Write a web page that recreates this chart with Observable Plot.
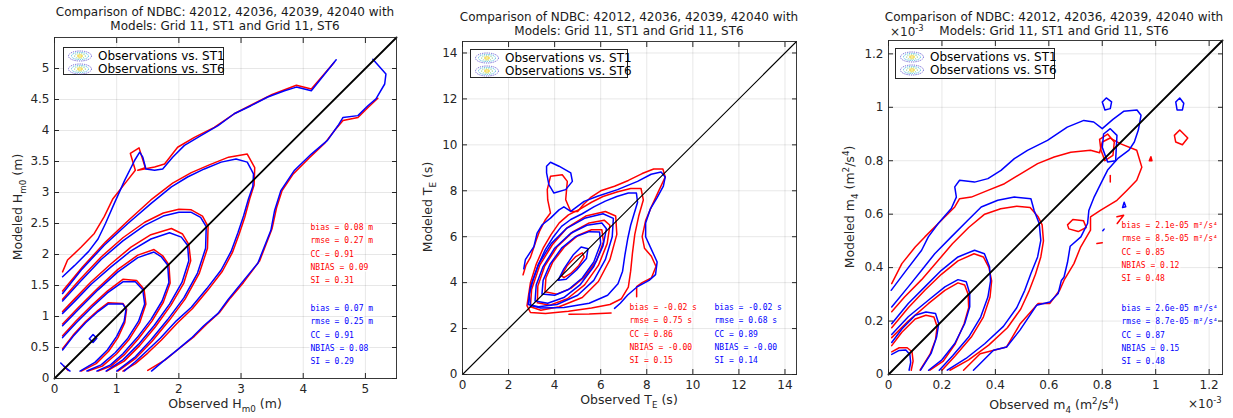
<!DOCTYPE html>
<html><head><meta charset="utf-8">
<script src="https://cdn.jsdelivr.net/npm/d3@7"></script>
<script src="https://cdn.jsdelivr.net/npm/@observablehq/plot@0.6"></script>
<style>
body{margin:0;background:#fff;font-family:"DejaVu Sans",sans-serif;}
#wrap{position:relative;width:1233px;height:418px;overflow:hidden;background:#fff;}
.panel{position:absolute;top:0;}
.title{position:absolute;text-align:center;font-size:12px;line-height:14px;color:#1a1a1a;white-space:nowrap;transform:translateX(-50%);}
.xlab,.ylab{position:absolute;font-size:12.5px;color:#262626;white-space:nowrap;line-height:14px;}
.xlab{transform:translate(-50%,-50%);}
.ylab{transform:translate(-50%,-50%) rotate(-90deg);}
.exp{position:absolute;font-size:12px;color:#262626;white-space:nowrap;line-height:12px;}
sub,sup{font-size:70%;line-height:0;}
.legend{position:absolute;border:1px solid #262626;background:#fff;font-size:12px;line-height:14px;color:#000;box-sizing:border-box;}
.legend div{display:flex;align-items:center;height:13px;white-space:nowrap;}
.legend svg{margin:0 5px 0 3px;flex:none;}
</style></head>
<body><div id="wrap"></div>
<script>
// ---------------- DATA ----------------
// Panel 1: Hm0 (m). Contour lines: [observed, modeled]
const p1Red = [
 [[0.13,1.72],[0.21,1.91],[0.43,2.12],[0.64,2.34],[0.80,2.61],[0.94,2.9],[1.16,3.18],[1.30,3.36],[1.22,3.63],[1.36,3.72],[1.46,3.40],[1.34,3.36],[1.61,3.41],[1.77,3.46],[1.98,3.73],[2.25,3.89],[2.57,4.05],[2.89,4.27],[3.22,4.44],[3.50,4.58],[3.89,4.73],[4.13,4.67],[4.50,5.10]],
 [[5.20,4.52],[5.05,4.38],[4.88,4.21],[4.64,4.16],[4.52,4.02],[4.35,3.80],[4.10,3.56],[3.84,3.30],[3.66,3.03],[3.57,2.75],[3.50,2.42],[3.30,1.90],[3.04,1.55],[2.83,1.30],[2.65,1.06],[2.45,0.88],[2.25,0.68],[2.0,0.48],[1.78,0.30],[1.5,0.13]],
 [[0.13,1.41],[0.45,1.8],[0.82,2.2],[1.2,2.56],[1.55,2.88],[1.9,3.15],[2.2,3.32],[2.5,3.45],[2.8,3.57],[3.1,3.62],[3.22,3.40],[3.21,3.12],[3.14,2.9],[3.06,2.6],[2.97,2.33],[2.86,2.03],[2.70,1.73],[2.47,1.43],[2.22,1.13],[1.98,0.9],[1.72,0.62],[1.5,0.41],[1.3,0.24],[1.1,0.12]],
 [[0.13,1.28],[0.4,1.59],[0.75,1.96],[1.1,2.27],[1.45,2.52],[1.75,2.67],[2.0,2.73],[2.2,2.72],[2.38,2.62],[2.47,2.45],[2.46,2.1],[2.33,1.7],[2.1,1.28],[1.84,0.93],[1.57,0.6],[1.31,0.33],[1.02,0.12]],
 [[0.13,1.08],[0.32,1.28],[0.59,1.56],[0.91,1.85],[1.23,2.12],[1.55,2.32],[1.88,2.42],[2.06,2.33],[2.16,2.16],[2.19,1.9],[2.08,1.54],[1.87,1.18],[1.62,0.83],[1.37,0.53],[1.12,0.28],[0.84,0.12]],
 [[0.13,0.88],[0.38,1.14],[0.7,1.46],[1.02,1.76],[1.34,1.99],[1.6,2.08],[1.74,1.98],[1.84,1.83],[1.86,1.54],[1.75,1.23],[1.57,0.93],[1.35,0.64],[1.12,0.38],[0.91,0.2],[0.7,0.12]],
 [[0.13,0.69],[0.35,0.93],[0.6,1.18],[0.85,1.41],[1.1,1.6],[1.32,1.58],[1.44,1.44],[1.47,1.2],[1.37,0.9],[1.2,0.63],[1.0,0.4],[0.77,0.2],[0.54,0.12]],
 [[0.13,0.48],[0.3,0.7],[0.5,0.92],[0.7,1.1],[0.86,1.22],[1.1,1.21],[1.16,1.12],[1.13,0.9],[1.02,0.66],[0.87,0.44],[0.67,0.24],[0.43,0.12]],
 [[0.15,0.2],[0.22,0.13]]
];
const p1Blue = [
 [[0.13,1.64],[0.32,1.82],[0.55,2.05],[0.70,2.25],[0.82,2.50],[0.96,2.82],[1.13,3.20],[1.29,3.52],[1.37,3.65],[1.42,3.57],[1.47,3.38],[1.61,3.36],[1.74,3.38],[1.90,3.57],[2.09,3.76],[2.36,3.92],[2.63,4.08],[2.89,4.27],[3.16,4.40],[3.43,4.54],[3.70,4.64],[3.89,4.70],[4.13,4.64],[4.53,5.14]],
 [[5.12,5.15],[5.33,4.91],[5.31,4.75],[5.17,4.51],[5.04,4.40],[4.88,4.24],[4.64,4.21],[4.56,4.08],[4.39,3.84],[4.13,3.62],[3.86,3.36],[3.64,3.03],[3.54,2.71],[3.48,2.39],[3.27,1.86],[3.00,1.53],[2.79,1.27],[2.63,1.05],[2.40,0.85],[2.20,0.65],[1.96,0.45],[1.75,0.28],[1.56,0.12]],
 [[0.13,1.37],[0.43,1.75],[0.8,2.15],[1.18,2.5],[1.55,2.82],[1.88,3.09],[2.14,3.25],[2.41,3.38],[2.68,3.49],[2.92,3.54],[3.1,3.49],[3.2,3.3],[3.19,3.1],[3.12,2.9],[3.04,2.62],[2.95,2.35],[2.84,2.05],[2.68,1.75],[2.45,1.45],[2.2,1.15],[1.96,0.93],[1.7,0.65],[1.48,0.44],[1.3,0.27],[1.12,0.12]],
 [[0.13,1.25],[0.4,1.55],[0.75,1.92],[1.1,2.22],[1.45,2.47],[1.75,2.62],[2.0,2.68],[2.2,2.68],[2.35,2.6],[2.44,2.45],[2.43,2.1],[2.3,1.7],[2.08,1.3],[1.82,0.95],[1.55,0.62],[1.3,0.35],[1.0,0.12]],
 [[0.13,1.05],[0.32,1.24],[0.59,1.52],[0.91,1.8],[1.23,2.06],[1.55,2.25],[1.85,2.35],[2.04,2.28],[2.14,2.15],[2.16,1.9],[2.05,1.55],[1.85,1.2],[1.6,0.85],[1.35,0.55],[1.1,0.3],[0.83,0.12]],
 [[0.13,0.85],[0.38,1.11],[0.7,1.43],[1.02,1.72],[1.34,1.95],[1.6,2.04],[1.72,1.96],[1.82,1.83],[1.84,1.55],[1.73,1.25],[1.55,0.95],[1.33,0.66],[1.1,0.4],[0.9,0.22],[0.68,0.12]],
 [[0.13,0.66],[0.35,0.9],[0.6,1.15],[0.85,1.38],[1.1,1.56],[1.3,1.56],[1.42,1.43],[1.45,1.2],[1.35,0.92],[1.18,0.65],[0.98,0.42],[0.75,0.22],[0.52,0.12]],
 [[0.13,0.46],[0.3,0.68],[0.5,0.9],[0.7,1.08],[0.86,1.2],[1.1,1.2],[1.15,1.12],[1.12,0.92],[1.0,0.68],[0.85,0.46],[0.65,0.26],[0.41,0.12]],
 [[0.56,0.64],[0.62,0.71],[0.68,0.65],[0.62,0.58],[0.56,0.64]],
 [[0.1,0.25],[0.17,0.18],[0.25,0.12]]
];
// Panel 2: TE (s)
const p2Red = [
 [[2.63,4.34],[2.75,4.75],[2.95,5.1],[3.2,5.85],[3.34,6.23],[3.6,6.74],[3.82,7.03],[3.7,7.6],[3.68,8.05],[3.82,8.63],[4.33,8.7],[4.55,8.41],[4.48,7.61],[4.7,7.1],[5.0,7.1],[5.25,7.4],[5.55,7.7],[6.0,8.0],[6.6,8.2],[7.2,8.45],[7.8,8.75],[8.3,8.95],[8.7,8.95],[8.8,8.6],[8.5,7.95],[8.2,7.3],[7.95,6.7],[7.8,6.0],[7.9,5.5],[8.2,5.15],[8.4,4.7],[8.2,4.2],[7.8,4.0],[7.56,3.83],[7.56,3.39]],
 [[4.62,2.62],[5.5,2.63],[6.45,2.68]],
 [[2.8,3.0],[2.95,2.7],[3.6,2.66],[4.6,2.75],[5.6,2.9],[6.4,3.05],[6.9,3.3],[7.2,3.8],[7.3,4.5],[7.38,5.3],[7.48,6.1],[7.65,6.9],[7.85,7.6],[7.75,8.1],[7.3,8.1],[6.7,7.95],[6.1,7.75],[5.6,7.5],[5.1,7.2],[4.6,6.95],[4.2,6.6],[3.85,6.1],[3.5,5.5],[3.2,4.8],[2.95,4.0],[2.8,3.0]],
 [[2.95,2.95],[3.0,3.7],[3.35,4.75],[3.9,5.65],[4.55,6.4],[5.35,6.9],[6.2,7.1],[6.65,6.9],[6.7,6.1],[6.4,5.0],[5.9,4.05],[5.2,3.35],[4.2,2.95],[3.4,2.8],[2.95,2.95]],
 [[3.25,3.12],[3.27,3.85],[3.57,4.72],[4.1,5.55],[4.8,6.22],[5.5,6.6],[6.15,6.72],[6.4,6.5],[6.28,5.7],[5.9,4.75],[5.3,3.9],[4.55,3.3],[3.8,3.02],[3.25,3.12]],
 [[3.58,3.6],[3.62,4.2],[3.92,4.9],[4.42,5.55],[5.0,6.05],[5.6,6.3],[6.05,6.3],[6.12,5.78],[5.82,4.95],[5.3,4.25],[4.7,3.75],[4.1,3.5],[3.58,3.6]],
 [[4.3,4.3],[4.55,4.75],[4.9,5.12],[5.2,5.3],[5.28,5.12],[5.05,4.75],[4.7,4.4],[4.4,4.22],[4.3,4.3]]
];
const p2Blue = [
 [[2.66,4.6],[2.73,5.0],[3.1,5.57],[3.24,6.16],[3.46,6.52],[3.82,6.81],[4.19,7.17],[4.4,7.3],[4.7,7.1],[4.99,7.32],[5.28,7.54],[5.86,7.76],[6.73,8.05],[7.6,8.41],[8.19,8.72],[8.62,8.82],[8.8,8.6],[8.72,8.2],[8.45,7.7],[8.15,7.2],[7.95,6.6],[7.95,6.0],[8.2,5.45],[8.45,4.9],[8.38,4.35],[8.1,4.1],[7.6,3.83],[7.17,3.46],[6.85,3.1],[6.6,2.88]],
 [[3.65,9.07],[3.82,9.24],[4.19,9.07],[4.7,8.78],[4.77,8.41],[4.48,8.05],[3.97,7.9],[3.75,8.27],[3.65,8.78],[3.65,9.07]],
 [[2.9,3.5],[2.95,3.0],[3.4,2.9],[4.4,2.92],[5.5,3.1],[6.3,3.45],[6.75,3.95],[6.95,4.5],[7.05,5.2],[7.17,5.9],[7.3,6.5],[7.45,7.0],[7.6,7.5],[7.55,7.9],[7.2,7.9],[6.7,7.75],[6.2,7.55],[5.7,7.3],[5.2,7.0],[4.7,6.75],[4.3,6.45],[3.95,6.0],[3.6,5.45],[3.3,4.8],[3.05,4.1],[2.9,3.5]],
 [[2.85,3.05],[2.95,3.8],[3.3,4.8],[3.85,5.7],[4.5,6.35],[5.3,6.8],[6.1,7.0],[6.55,6.8],[6.5,6.0],[6.2,5.0],[5.7,4.1],[5.0,3.45],[4.1,3.05],[3.3,2.95],[2.85,3.05]],
 [[3.15,3.2],[3.2,3.9],[3.5,4.7],[4.0,5.5],[4.7,6.15],[5.4,6.5],[6.05,6.6],[6.25,6.35],[6.1,5.6],[5.7,4.7],[5.1,3.9],[4.4,3.35],[3.7,3.1],[3.15,3.2]],
 [[3.45,3.5],[3.5,4.1],[3.8,4.8],[4.3,5.5],[4.9,6.0],[5.5,6.22],[5.95,6.2],[6.0,5.7],[5.7,4.9],[5.2,4.2],[4.6,3.7],[4.0,3.45],[3.45,3.5]],
 [[4.15,4.1],[4.4,4.6],[4.8,5.2],[5.15,5.55],[5.45,5.48],[5.38,5.05],[4.95,4.55],[4.5,4.15],[4.15,4.1]]
];
// Panel 3: m4 (×10^-3 m²/s⁴)
const p3Red = [
 [[0.012,0.34],[0.05,0.415],[0.1,0.477],[0.136,0.515],[0.186,0.565],[0.248,0.627],[0.266,0.658],[0.31,0.664],[0.372,0.689],[0.434,0.714],[0.496,0.752],[0.558,0.789],[0.62,0.814],[0.682,0.832],[0.756,0.839],[0.79,0.83],[0.80,0.87],[0.83,0.885],[0.867,0.864],[0.929,0.839],[0.948,0.776],[0.929,0.727],[0.892,0.689],[0.855,0.652],[0.793,0.614],[0.756,0.59],[0.756,0.54],[0.719,0.477],[0.694,0.415],[0.657,0.353],[0.641,0.316],[0.604,0.266],[0.56,0.266],[0.493,0.19],[0.442,0.103],[0.343,0.078],[0.281,0.016]],
 [[0.012,0.235],[0.06,0.29],[0.124,0.355],[0.18,0.42],[0.24,0.49],[0.3,0.55],[0.36,0.6],[0.42,0.62],[0.48,0.63],[0.53,0.625],[0.56,0.59],[0.575,0.56],[0.58,0.5],[0.57,0.44],[0.55,0.375],[0.525,0.31],[0.495,0.245],[0.445,0.175],[0.375,0.11],[0.3,0.055],[0.23,0.016]],
 [[0.012,0.175],[0.074,0.25],[0.136,0.315],[0.198,0.375],[0.26,0.425],[0.32,0.452],[0.355,0.44],[0.376,0.40],[0.386,0.35],[0.38,0.29],[0.355,0.215],[0.31,0.14],[0.25,0.07],[0.2,0.016]],
 [[0.012,0.138],[0.074,0.2],[0.149,0.265],[0.211,0.315],[0.26,0.343],[0.285,0.335],[0.298,0.3],[0.3,0.25],[0.283,0.19],[0.25,0.115],[0.205,0.05],[0.155,0.016]],
 [[0.012,0.108],[0.05,0.158],[0.1,0.208],[0.14,0.222],[0.17,0.215],[0.182,0.18],[0.176,0.13],[0.155,0.075],[0.118,0.016]],
 [[0.012,0.085],[0.04,0.1],[0.07,0.1],[0.088,0.085],[0.092,0.05],[0.085,0.016]],
 [[1.07,0.895],[1.09,0.915],[1.12,0.885],[1.10,0.86],[1.075,0.87],[1.07,0.895]],
 [[0.976,0.80],[0.982,0.815],[0.986,0.80],[0.976,0.80]],
 [[0.83,0.72],[0.83,0.745]],
 [[0.855,0.59],[0.88,0.596],[0.856,0.565]],
 [[0.67,0.56],[0.69,0.58],[0.73,0.575],[0.74,0.55],[0.71,0.535],[0.675,0.545],[0.67,0.56]],
 [[0.78,0.49],[0.8,0.493]],
 [[0.79,0.88],[0.82,0.9],[0.845,0.87],[0.84,0.82],[0.81,0.8],[0.795,0.84],[0.79,0.88]]
];
const p3Blue = [
 [[0.01,0.315],[0.062,0.384],[0.124,0.465],[0.149,0.515],[0.186,0.565],[0.235,0.621],[0.254,0.664],[0.248,0.702],[0.266,0.727],[0.322,0.72],[0.372,0.733],[0.421,0.764],[0.471,0.808],[0.52,0.839],[0.595,0.876],[0.669,0.926],[0.731,0.951],[0.768,0.945],[0.80,0.92],[0.84,0.955],[0.88,0.985],[0.93,0.99],[0.945,0.97],[0.935,0.915],[0.92,0.87],[0.90,0.84],[0.86,0.81],[0.82,0.765],[0.795,0.715],[0.77,0.665],[0.75,0.615],[0.745,0.565],[0.72,0.515],[0.68,0.48],[0.67,0.42],[0.657,0.365],[0.647,0.352],[0.635,0.303],[0.604,0.271],[0.554,0.259],[0.492,0.166],[0.442,0.103],[0.393,0.091],[0.318,0.016]],
 [[0.012,0.253],[0.074,0.328],[0.124,0.39],[0.173,0.452],[0.235,0.515],[0.297,0.577],[0.347,0.627],[0.409,0.652],[0.471,0.664],[0.533,0.658],[0.545,0.614],[0.564,0.565],[0.57,0.502],[0.558,0.44],[0.533,0.378],[0.51,0.315],[0.48,0.25],[0.43,0.18],[0.36,0.115],[0.29,0.06],[0.22,0.016]],
 [[0.012,0.19],[0.074,0.266],[0.136,0.328],[0.198,0.39],[0.26,0.44],[0.322,0.465],[0.359,0.452],[0.378,0.403],[0.382,0.35],[0.372,0.29],[0.345,0.215],[0.3,0.14],[0.24,0.07],[0.19,0.016]],
 [[0.012,0.15],[0.074,0.216],[0.149,0.278],[0.211,0.328],[0.26,0.355],[0.291,0.347],[0.304,0.303],[0.304,0.253],[0.285,0.19],[0.248,0.116],[0.2,0.055],[0.15,0.016]],
 [[0.012,0.12],[0.05,0.17],[0.1,0.222],[0.14,0.234],[0.176,0.228],[0.188,0.19],[0.18,0.14],[0.16,0.08],[0.12,0.016]],
 [[0.012,0.075],[0.04,0.09],[0.065,0.092],[0.08,0.075],[0.083,0.045],[0.077,0.016]],
 [[0.80,1.02],[0.815,1.035],[0.835,1.02],[0.83,0.995],[0.81,0.99],[0.80,1.02]],
 [[1.075,1.02],[1.09,1.035],[1.105,1.015],[1.1,0.99],[1.08,0.99],[1.075,1.02]],
 [[0.805,0.9],[0.83,0.92],[0.855,0.895],[0.85,0.8],[0.82,0.795],[0.80,0.85],[0.805,0.9]],
 [[0.876,0.625],[0.882,0.645],[0.888,0.628],[0.876,0.625]],
 [[0.802,0.538],[0.807,0.544]]
];
// axis extents and ticks
const p1Ext = [0, 5.5], p2Ext = [0, 14.5], p3Ext = [0, 1.25];
const p1XTicks = [0,1,2,3,4,5];
const p1YTicks = [0,0.5,1,1.5,2,2.5,3,3.5,4,4.5,5];
const p2Ticks = [0,2,4,6,8,10,12,14];
const p3Ticks = [0,0.2,0.4,0.6,0.8,1,1.2];
// statistics text
const p1StatsRed = ["bias = 0.08 m","rmse = 0.27 m","CC = 0.91","NBIAS = 0.09","SI = 0.31"];
const p1StatsBlue = ["bias = 0.07 m","rmse = 0.25 m","CC = 0.91","NBIAS = 0.08","SI = 0.29"];
const p2StatsRed = ["bias = -0.02 s","rmse = 0.75 s","CC = 0.86","NBIAS = -0.00","SI = 0.15"];
const p2StatsBlue = ["bias = -0.02 s","rmse = 0.68 s","CC = 0.89","NBIAS = -0.00","SI = 0.14"];
const p3StatsRed = ["bias = 2.1e-05 m²/s⁴","rmse = 8.5e-05 m²/s⁴","CC = 0.85","NBIAS = 0.12","SI = 0.48"];
const p3StatsBlue = ["bias = 2.6e-05 m²/s⁴","rmse = 8.7e-05 m²/s⁴","CC = 0.87","NBIAS = 0.15","SI = 0.48"];
const titleLines = ["Comparison of NDBC: 42012, 42036, 42039, 42040 with","Models: Grid 11, ST1 and Grid 11, ST6"];
const legendLabels = ["Observations vs. ST1","Observations vs. ST6"];

// ---------------- LAYOUT ----------------
const panels = [
 {left:0, width:410, mL:54, mR:14, mT:37, mB:40, ext:p1Ext, xt:p1XTicks, yt:p1YTicks, red:p1Red, blue:p1Blue, sr:p1StatsRed, sb:p1StatsBlue,
  srPos:[256,183], sbPos:[256,264], diagW:1.8, titleY:5, tx:225,
  legend:[63,47,161,28], xlab:["Observed H<sub>m0</sub> (m)",225,404], ylab:["Modeled H<sub>m0</sub> (m)",18,207]},
 {left:410, width:410, mL:52, mR:24, mT:41, mB:44, ext:p2Ext, xt:p2Ticks, yt:p2Ticks, red:p2Red, blue:p2Blue, sr:p2StatsRed, sb:p2StatsBlue,
  srPos:[167,259], sbPos:[252,259], diagW:1.1, titleY:10, tx:629,
  legend:[470,49,158,29], xlab:["Observed T<sub>E</sub> (s)",629,400], ylab:["Modeled T<sub>E</sub> (s)",428,207]},
 {left:820, width:413, mL:68, mR:11, mT:40, mB:44, ext:p3Ext, xt:p3Ticks, yt:p3Ticks, red:p3Red, blue:p3Blue, sr:p3StatsRed, sb:p3StatsBlue,
  srPos:[233,178], sbPos:[233,261], diagW:1.8, titleY:10, tx:1054,
  legend:[895,48,160,31], xlab:["Observed m<sub>4</sub> (m<sup>2</sup>/s<sup>4</sup>)",1054,405], ylab:["Modeled m<sub>4</sub> (m<sup>2</sup>/s<sup>4</sup>)",850,207]}
];

function rows(contours, tag) {
  const out = [];
  contours.forEach((c, i) => c.forEach(([x, y]) => out.push({x, y, id: tag + i})));
  return out;
}
const wrap = document.getElementById("wrap");
function addDiv(cls, html, left, top, extra) {
  const d = document.createElement("div");
  d.className = cls; d.innerHTML = html;
  d.style.left = left + "px"; d.style.top = top + "px";
  if (extra) Object.assign(d.style, extra);
  wrap.appendChild(d); return d;
}
const icon = `<svg width="26" height="12" viewBox="0 0 26 12">
<ellipse cx="13" cy="6" rx="11.5" ry="5" fill="none" stroke="#4a3cc9" stroke-width="0.8" stroke-dasharray="1.2 1"/>
<ellipse cx="13" cy="6" rx="8.5" ry="3.6" fill="none" stroke="#26a8d8" stroke-width="0.8" stroke-dasharray="1.2 1"/>
<ellipse cx="13" cy="6" rx="5.5" ry="2.3" fill="none" stroke="#7cc66a" stroke-width="0.8" stroke-dasharray="1.2 1"/>
<ellipse cx="13" cy="6" rx="2.6" ry="1.1" fill="none" stroke="#f3d11f" stroke-width="1"/></svg>`;
const fmt = d => String(d);

panels.forEach(p => {
  const statStyle = {frameAnchor:"top-left", textAnchor:"start", lineAnchor:"top", fontFamily:"DejaVu Sans Mono", fontSize:8, lineHeight:1.67, stroke:"white", strokeWidth:3};
  const chart = Plot.plot({
    width: p.width, height: 418,
    marginLeft: p.mL, marginRight: p.mR, marginTop: p.mT, marginBottom: p.mB,
    style: {fontFamily: "DejaVu Sans", fontSize: "12px", color: "#262626", background: "transparent", overflow: "visible"},
    x: {domain: p.ext, label: null},
    y: {domain: p.ext, label: null},
    marks: [
      Plot.gridX(p.xt, {stroke: "#000", strokeOpacity: 0.12, strokeWidth: 0.8}),
      Plot.gridY(p.yt, {stroke: "#000", strokeOpacity: 0.12, strokeWidth: 0.8}),
      Plot.line(rows(p.red, "r"), {x: "x", y: "y", z: "id", stroke: "#ff0000", strokeWidth: 1.5, clip: true}),
      Plot.line(rows(p.blue, "b"), {x: "x", y: "y", z: "id", stroke: "#0000ff", strokeWidth: 1.5, clip: true}),
      Plot.line(p.ext, {x: d => d, y: d => d, stroke: "#000", strokeWidth: p.diagW}),
      Plot.text([p.sr.join("\n")], {...statStyle, text: d => d, fill: "#ff0000", dx: p.srPos[0], dy: p.srPos[1]}),
      Plot.text([p.sb.join("\n")], {...statStyle, text: d => d, fill: "#0000ff", dx: p.sbPos[0], dy: p.sbPos[1]}),
      Plot.frame({stroke: "#262626", strokeWidth: 0.9}),
      Plot.axisX(p.xt, {anchor: "bottom", tickSize: -5, tickPadding: 11, fontSize: 12, tickFormat: fmt}),
      Plot.axisX(p.xt, {anchor: "top", tickSize: -5, tickFormat: () => ""}),
      Plot.axisY(p.yt, {anchor: "left", tickSize: -5, tickPadding: 10, fontSize: 12, tickFormat: fmt}),
      Plot.axisY(p.yt, {anchor: "right", tickSize: -5, tickFormat: () => ""})
    ]
  });
  const holder = document.createElement("div");
  holder.className = "panel"; holder.style.left = p.left + "px";
  holder.appendChild(chart); wrap.appendChild(holder);

  addDiv("title", titleLines.join("<br>"), p.tx, p.titleY);
  addDiv("xlab", p.xlab[0], p.xlab[1], p.xlab[2]);
  addDiv("ylab", p.ylab[0], p.ylab[1], p.ylab[2]);
  const [lx, ly, lw, lh] = p.legend;
  addDiv("legend", legendLabels.map(t => `<div>${icon}<span>${t}</span></div>`).join(""), lx, ly,
    {width: lw + "px", height: lh + "px", paddingTop: "1px"});
});
addDiv("exp", "×10<sup>-3</sup>", 890, 26);
addDiv("exp", "×10<sup>-3</sup>", 1188, 398);
</script>
</body></html>
